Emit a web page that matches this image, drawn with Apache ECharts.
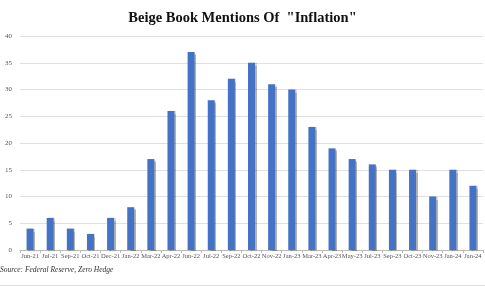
<!DOCTYPE html>
<html lang="en">
<head>
    <meta charset="UTF-8">
    <title>Beige Book Mentions Of "Inflation"</title>
    <style>
        html, body { margin: 0; padding: 0; background: #fff; }
        #chart { width: 485px; height: 288px; }
    </style>
</head>
<body>
<div id="chart"></div>
<script src="https://cdn.jsdelivr.net/npm/echarts@6/dist/echarts.min.js"></script>
<script type="text/javascript">
    var months = ['Jun-21', 'Jul-21', 'Sep-21', 'Oct-21', 'Dec-21', 'Jan-22', 'Mar-22', 'Apr-22',
        'Jun-22', 'Jul-22', 'Sep-22', 'Oct-22', 'Nov-22', 'Jan-23', 'Mar-23', 'Apr-23',
        'May-23', 'Jul-23', 'Sep-23', 'Oct-23', 'Nov-23', 'Jan-24', 'Jan-24'];
    var mentions = [4, 6, 4, 3, 6, 8, 17, 26, 37, 28, 32, 35, 31, 30, 23, 19, 17, 16, 15, 15, 10, 15, 12];
    var yTicks = [0, 40, 5];

    var chart = echarts.init(document.getElementById('chart'));
    chart.setOption({
        animation: false,
        title: {
            text: 'Beige Book Mentions Of  "Inflation"',
            left: 'center',
            top: 6,
            textStyle: { fontFamily: 'Liberation Serif', fontSize: 14.5, fontWeight: 'bold', color: '#111' }
        },
        graphic: [
            {
                type: 'text', left: 0, top: 266,
                style: { text: 'Source: Federal Reserve, Zero Hedge', font: 'italic 7.5px "Liberation Serif"', fill: '#333' }
            },
            { type: 'rect', left: 0, top: 285, shape: { width: 485, height: 1 }, style: { fill: '#ddd' } }
        ],
        grid: { left: 20, right: 2, top: 36, bottom: 38 },
        xAxis: {
            type: 'category',
            data: months,
            axisLine: { lineStyle: { color: '#bbb' } },
            axisTick: { show: true, length: 3, lineStyle: { color: '#bbb' } },
            axisLabel: { interval: 0, fontFamily: 'Liberation Serif', fontSize: 6.5, color: '#555', margin: 3 }
        },
        yAxis: {
            type: 'value',
            min: yTicks[0],
            max: yTicks[1],
            interval: yTicks[2],
            axisLine: { show: false },
            axisTick: { show: false },
            axisLabel: { fontFamily: 'Liberation Serif', fontSize: 7, color: '#555', margin: 8 },
            splitLine: { lineStyle: { color: '#e0e0e0' } }
        },
        series: [{
            type: 'bar',
            data: mentions,
            barWidth: 7,
            itemStyle: {
                color: '#4472C4',
                shadowColor: 'rgba(0,0,0,0.3)',
                shadowOffsetX: 1.5,
                shadowOffsetY: 0.5,
                shadowBlur: 1
            }
        }]
    });
</script>
</body>
</html>
